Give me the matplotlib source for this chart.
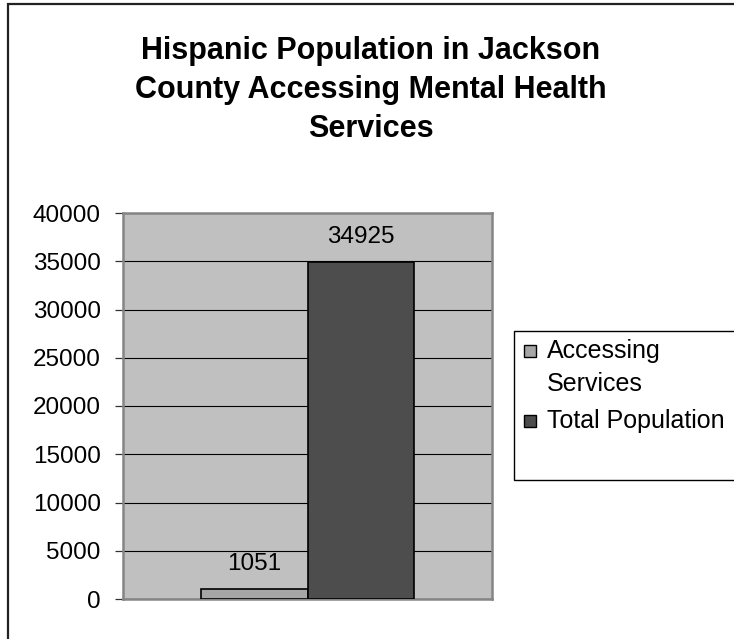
import matplotlib
matplotlib.use("Agg")
from matplotlib import pyplot as plt
from matplotlib.patches import Rectangle

plt.rcParams['font.family'] = ['Liberation Sans', 'DejaVu Sans']

TITLE = "Hispanic Population in Jackson\nCounty Accessing Mental Health\nServices"
series_names = ["Accessing\nServices", "Total Population"]
series_values = [1051, 34925]
series_colors = ["#a6a6a6", "#4d4d4d"]
y_ticks = [0, 5000, 10000, 15000, 20000, 25000, 30000, 35000, 40000]

W, H = 734, 639
fig = plt.figure(figsize=(W / 100, H / 100), dpi=100)

# outer chart border (runs off the right and bottom edges)
fig.patches.append(Rectangle((8 / W, -0.05), 1.2, 1 - 4 / H + 0.05,
                             transform=fig.transFigure, fill=False,
                             edgecolor='#222222', linewidth=1.6))

ax = fig.add_axes([123 / W, 1 - 599 / H, 369 / W, 386 / H])
ax.set_facecolor('#c0c0c0')
ax.set_axisbelow(True)

for i, (name, val, col) in enumerate(zip(series_names, series_values, series_colors)):
    ax.bar(i, val, width=1.0, color=col, edgecolor='black', linewidth=1.2,
           label=name, zorder=3)
    ax.annotate(str(val), (i, val), xytext=(0, 10), textcoords='offset points',
                ha='center', va='bottom', fontsize=17.5)

ax.set_xlim(-1.24, 2.24)
ax.set_ylim(0, 40000)
ax.set_yticks(y_ticks)
ax.set_yticklabels([str(t) for t in y_ticks])
ax.yaxis.grid(True, color='black', linewidth=0.8)
ax.set_xticks([])
ax.tick_params(axis='y', direction='out', length=6, width=0.9, pad=10,
               labelsize=17.5, color='#333333')
for s in ax.spines.values():
    s.set_color('#858585')
    s.set_linewidth(1.8)

fig.text(371 / W, 1 - 90 / H, TITLE, ha='center', va='center',
         fontsize=22, fontweight='bold', linespacing=1.38)

# legend box, cut by the right edge like the original
fig.patches.append(Rectangle((514 / W, 1 - 480 / H), 0.5, 149 / H,
                             transform=fig.transFigure, fill=True,
                             facecolor='white', edgecolor='black', linewidth=1.0))
key_y = [351, 421]  # first-line centre of each entry, px from top
for name, col, yk in zip(series_names, series_colors, key_y):
    fig.patches.append(Rectangle((524 / W, 1 - (yk + 6) / H), 12 / W, 12 / H,
                                 transform=fig.transFigure, facecolor=col,
                                 edgecolor='black', linewidth=1.0))
    fig.text(547 / W, 1 - (yk - 12) / H, name, ha='left', va='top',
             fontsize=18, linespacing=1.45)

fig.savefig("out.png", dpi=100)
